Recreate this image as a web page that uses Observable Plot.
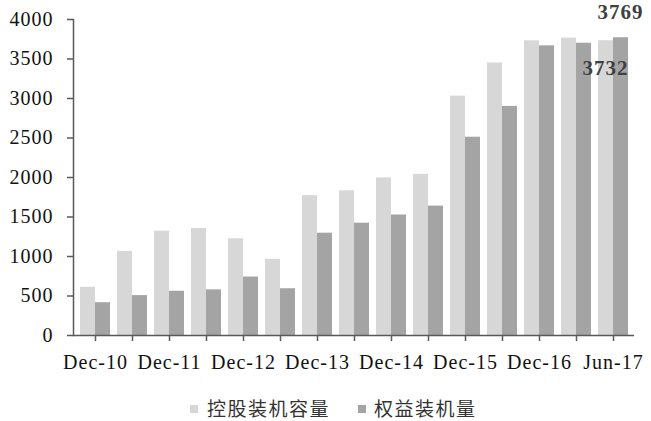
<!DOCTYPE html>
<html><head><meta charset="utf-8">
<script src="https://cdn.jsdelivr.net/npm/d3@7"></script>
<script src="https://cdn.jsdelivr.net/npm/@observablehq/plot@0.6"></script>
<style>
body{margin:0;background:#fff;width:651px;height:421px;overflow:hidden;position:relative}
#legend{position:absolute;left:0;top:396px;width:651px;height:24px;font-family:"Noto Sans CJK SC",sans-serif;font-size:19px;color:#333;letter-spacing:1.5px}
.sw{position:absolute;top:9px;width:8px;height:8px}
.lt{position:absolute;top:0;line-height:24px;white-space:nowrap}
svg text{font-family:"Liberation Serif",serif}
</style></head><body><div id="chart"></div><div id="legend"></div>
<script>
const categories = ["Dec-10","Jun-11","Dec-11","Jun-12","Dec-12","Jun-13","Dec-13","Jun-14","Dec-14","Jun-15","Dec-15","Jun-16","Dec-16","Mar-17","Jun-17"];
const holding = [610, 1065, 1320, 1355, 1225, 965, 1770, 1832, 1995, 2040, 3030, 3450, 3730, 3765, 3732];
const equity  = [415, 505, 560, 578, 740, 592, 1295, 1422, 1525, 1638, 2510, 2900, 3667, 3700, 3769];
const seriesNames = ["控股装机容量", "权益装机量"];
const shownLabels = ["Dec-10","Dec-11","Dec-12","Dec-13","Dec-14","Dec-15","Dec-16","Jun-17"];
const yTicks = [0, 500, 1000, 1500, 2000, 2500, 3000, 3500, 4000];
const colors = ["#d7d7d7", "#a4a4a4"];

const rowsHolding = categories.map((c, i) => ({cat: c, value: holding[i]}));
const rowsEquity = categories.map((c, i) => ({cat: c, value: equity[i]}));
const lastCat = categories[categories.length - 1];
const lastHolding = [{cat: lastCat, value: holding[holding.length - 1]}];
const lastEquity = [{cat: lastCat, value: equity[equity.length - 1]}];
const serif = "Liberation Serif";

const chart = Plot.plot({
  width: 651,
  height: 390,
  marginTop: 19,
  marginBottom: 55,
  marginLeft: 73,
  marginRight: 17,
  style: {fontFamily: "'Liberation Serif', serif", fontSize: "20px", color: "#111", background: "#fff", letterSpacing: "1px"},
  x: {domain: categories, paddingInner: 0.2, paddingOuter: 0.1, label: null},
  y: {domain: [0, 4000], label: null},
  marks: [
    Plot.barY(rowsHolding, {x: "cat", y: "value", fill: colors[0], insetRight: 15}),
    Plot.barY(rowsEquity, {x: "cat", y: "value", fill: colors[1], insetLeft: 15}),
    Plot.ruleY([0], {stroke: "#595959", strokeWidth: 1.5}),
    Plot.frame({anchor: "left", stroke: "#595959", strokeWidth: 1.5}),
    Plot.axisY({ticks: yTicks, tickSize: 6, tickPadding: 14, tickFormat: d => String(d), stroke: "#595959", strokeWidth: 1.5, fontFamily: serif, fill: "#111"}),
    Plot.axisX({tickSize: 6, tickPadding: 13, tickFormat: d => shownLabels.includes(d) ? d : "", stroke: "#595959", strokeWidth: 1.5, fontFamily: serif, fill: "#111"}),
    Plot.text(lastHolding, {x: "cat", y: "value", text: d => String(d.value), dx: -8, dy: 28, fontWeight: "bold", fontSize: 21, fontFamily: serif, fill: "#404040"}),
    Plot.text(lastEquity, {x: "cat", y: "value", text: d => String(d.value), dx: 7, dy: -25, fontWeight: "bold", fontSize: 21, fontFamily: serif, fill: "#404040"})
  ]
});
document.getElementById("chart").append(chart);

const legend = document.getElementById("legend");
const pos = [{sw: 190, tx: 207}, {sw: 358, tx: 374}];
seriesNames.forEach((name, i) => {
  const s = document.createElement("div");
  s.className = "sw"; s.style.left = pos[i].sw + "px"; s.style.background = colors[i];
  const t = document.createElement("div");
  t.className = "lt"; t.style.left = pos[i].tx + "px"; t.textContent = name;
  legend.append(s, t);
});
</script></body></html>
